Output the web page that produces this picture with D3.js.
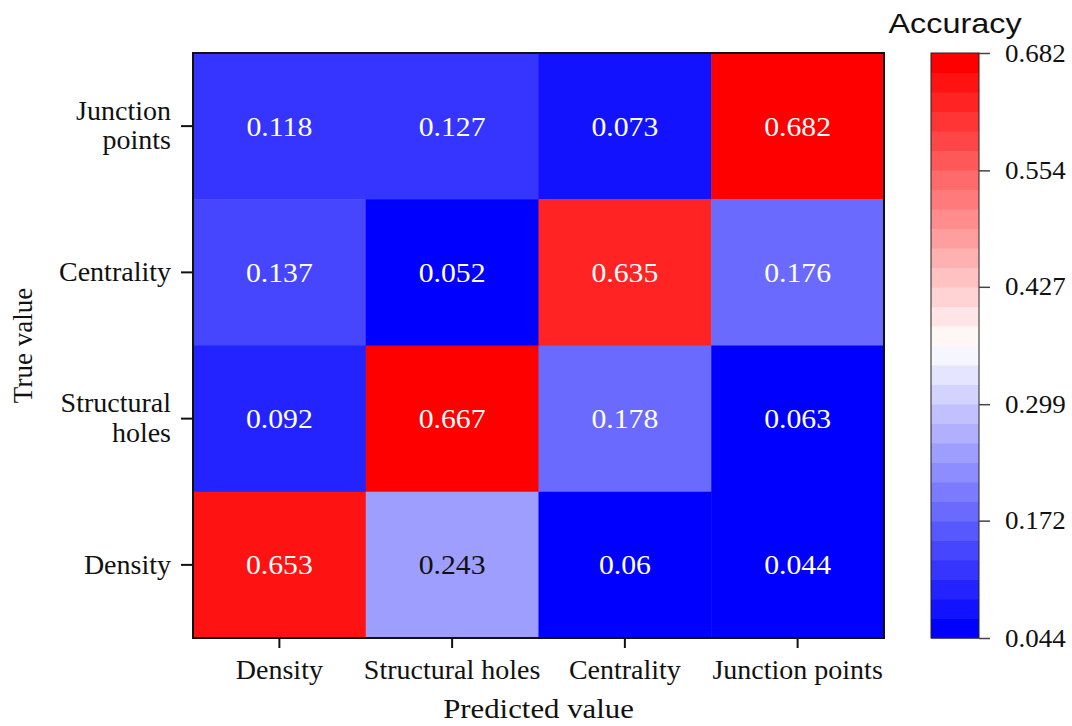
<!DOCTYPE html>
<html>
<head>
<meta charset="utf-8">
<script src="https://cdn.jsdelivr.net/npm/d3@7"></script>
<style>
  body { margin: 0; background: #fff; }
  text { font-family: "Liberation Serif", "Times New Roman", serif; fill: #111; }
</style>
</head>
<body>
<svg id="chart"></svg>
<script>
// predicted (columns) and true (rows, top to bottom)
var predicted = ["Density", "Structural holes", "Centrality", "Junction points"];
var trueRows = ["Junction points", "Centrality", "Structural holes", "Density"];

var junctionRow = [0.118, 0.127, 0.073, 0.682];
var centralityRow = [0.137, 0.052, 0.635, 0.176];
var structuralRow = [0.092, 0.667, 0.178, 0.063];
var densityRow = [0.653, 0.243, 0.06, 0.044];
var rows = [junctionRow, centralityRow, structuralRow, densityRow];

var barTicks = [0.044, 0.172, 0.299, 0.427, 0.554, 0.682];
var nLevels = 30;

var W = 1072, H = 726;
var margin = {top: 53, right: 188, bottom: 88, left: 193},
    width = W - margin.left - margin.right,
    height = H - margin.top - margin.bottom;

var svg = d3.select("#chart").attr("width", W).attr("height", H);
var g = svg.append("g").attr("transform", "translate(" + margin.left + "," + margin.top + ")");

var x = d3.scaleBand().domain(predicted).range([0, width]);
var y = d3.scaleBand().domain(trueRows).range([0, height]);

// stepped blue-white-red palette
var interp = d3.piecewise(d3.interpolateRgb, ["#0000ff", "#ffffff", "#ff0000"]);
var levelColors = d3.range(nLevels).map(function(i) { return interp(i / (nLevels - 1)); });
var color = d3.scaleQuantize().domain([0.044, 0.682]).range(levelColors);

var cells = [];
rows.forEach(function(r, i) {
  r.forEach(function(v, j) {
    cells.push({row: trueRows[i], col: predicted[j], value: v});
  });
});

g.selectAll("rect.cell")
  .data(cells)
  .enter().append("rect")
  .attr("class", "cell")
  .attr("x", function(d) { return x(d.col); })
  .attr("y", function(d) { return y(d.row); })
  .attr("width", x.bandwidth() + 0.5)
  .attr("height", y.bandwidth() + 0.5)
  .attr("fill", function(d) { return color(d.value); });

g.selectAll("text.val")
  .data(cells)
  .enter().append("text")
  .attr("class", "val")
  .attr("transform", function(d) {
    return "translate(" + (x(d.col) + x.bandwidth() / 2) + "," + (y(d.row) + y.bandwidth() / 2) + ") scale(1.1,1)";
  })
  .attr("text-anchor", "middle")
  .attr("dy", "0.35em")
  .style("font-size", "27px")
  .style("fill", function(d) { return d3.hsl(color(d.value)).l > 0.75 ? "#111" : "#fff"; })
  .text(function(d) { return String(d.value); });

// frame
g.append("rect")
  .attr("width", width).attr("height", height)
  .attr("fill", "none").attr("stroke", "#111").attr("stroke-width", 2);

// x axis
var xAxis = g.append("g")
  .attr("transform", "translate(0," + height + ")")
  .call(d3.axisBottom(x).tickSize(10).tickPadding(11));
xAxis.select(".domain").remove();
xAxis.selectAll("line").attr("stroke", "#111").attr("stroke-width", 2);
xAxis.selectAll("text").style("font-size", "28px").attr("fill", "#111");

// y axis with wrapped labels
var yAxis = g.append("g")
  .call(d3.axisLeft(y).tickSize(12).tickPadding(10));
yAxis.select(".domain").remove();
yAxis.selectAll("line").attr("stroke", "#111").attr("stroke-width", 2);
yAxis.selectAll("text").style("font-size", "28px").attr("fill", "#111")
  .each(function(d) {
    var t = d3.select(this);
    var words = d.split(" ");
    if (words.length > 1) {
      t.text(null).attr("dy", null);
      t.append("tspan").attr("x", -22).attr("dy", "-0.22em").text(words[0]);
      t.append("tspan").attr("x", -22).attr("dy", "1.05em").text(words.slice(1).join(" "));
    }
  });

// axis titles
svg.append("text")
  .attr("transform", "translate(" + (margin.left + width / 2) + "," + (H - 8) + ") scale(1.1,1)")
  .attr("text-anchor", "middle")
  .style("font-size", "28px")
  .text("Predicted value");

svg.append("text")
  .attr("transform", "translate(32," + (margin.top + height / 2) + ") rotate(-90)")
  .attr("text-anchor", "middle")
  .style("font-size", "27px")
  .text("True value");

// colour bar
var barX = 931, barW = 48;
var cb = svg.append("g").attr("transform", "translate(" + barX + "," + margin.top + ")");
var yb = d3.scaleLinear().domain([0.044, 0.682]).range([height, 0]);
var step = (0.682 - 0.044) / nLevels;

cb.selectAll("rect.lvl")
  .data(levelColors)
  .enter().append("rect")
  .attr("class", "lvl")
  .attr("x", 0)
  .attr("y", function(c, i) { return yb(0.044 + (i + 1) * step); })
  .attr("width", barW)
  .attr("height", function(c, i) { return yb(0.044 + i * step) - yb(0.044 + (i + 1) * step) + 0.5; })
  .attr("fill", function(c) { return c; });

cb.append("rect")
  .attr("width", barW).attr("height", height)
  .attr("fill", "none").attr("stroke", "#222").attr("stroke-width", 1);

var cbAxis = cb.append("g")
  .attr("transform", "translate(" + barW + ",0)")
  .call(d3.axisRight(yb).tickValues(barTicks).tickFormat(d3.format(".3f")).tickSize(11).tickPadding(13));
cbAxis.select(".domain").remove();
cbAxis.selectAll("line").attr("stroke", "#444").attr("stroke-width", 1.5);
cbAxis.selectAll("text").style("font-size", "25px").attr("fill", "#111")
  .attr("transform", "scale(1.08,1)");

svg.append("text")
  .attr("transform", "translate(" + (barX + barW / 2) + ",33) scale(1.2,1)")
  .attr("text-anchor", "middle")
  .style("font-family", "'Liberation Sans', Arial, sans-serif")
  .style("font-size", "27px")
  .text("Accuracy");
</script>
</body>
</html>
